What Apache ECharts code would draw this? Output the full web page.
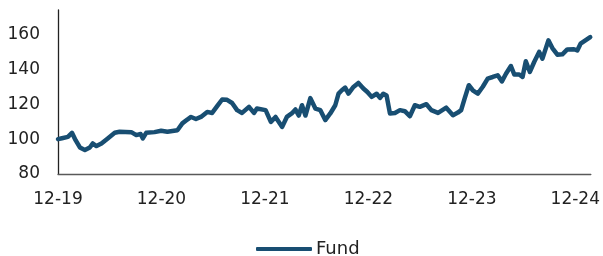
<!DOCTYPE html>
<html>
<head>
<meta charset="utf-8">
<script src="https://cdn.jsdelivr.net/npm/echarts@6/dist/echarts.min.js"></script>
<style>
  html, body { margin: 0; padding: 0; background: #fff; }
  #main { width: 603px; height: 256px; }
</style>
</head>
<body>
<div id="main"></div>
<script>
// months after Dec 2019
var months = [0, 0.46, 1.15, 1.62, 2.04, 2.54, 3.12, 3.69, 4.04, 4.46, 5.04, 5.77, 6.58, 7.15, 8.5, 9.08,
  9.58, 9.84, 10.23, 11.19, 11.96, 12.69, 13.85, 14.42, 15, 15.43, 16, 16.58, 17.31, 17.88, 18.46,
  19.04, 19.61, 20.19, 20.77, 21.35, 22.15, 22.73, 23.07, 24.08, 24.69, 25.23, 26, 26.54, 27.11,
  27.54, 27.92, 28.3, 28.7, 29.27, 29.85, 30.43, 31, 31.58, 32.16, 32.54, 32.92, 33.31, 33.69,
  34.27, 34.84, 35.42, 35.88, 36.38, 36.96, 37.35, 37.73, 38.11, 38.5, 39.08, 39.66, 40.23, 40.81,
  41.39, 41.96, 42.73, 43.3, 44.08, 45.03, 45.81, 46.38, 46.76, 47.16, 47.65, 48.11, 48.69, 49.27,
  49.84, 50.42, 51, 51.49, 51.96, 52.53, 52.93, 53.5, 53.88, 54.26, 54.73, 55.23, 55.81, 56.19,
  56.88, 57.34, 57.92, 58.5, 59.07, 59.85, 60.23, 60.61, 61.17, 61.73];
var fund = [100, 100.5, 101.3, 103.6, 99.4, 95.2, 93.7, 95.2, 97.5, 96, 97.5, 100.4, 103.6, 104.2, 104, 102.3,
  102.9, 100.4, 103.6, 104, 104.8, 104.2, 105.1, 109, 111.2, 112.7, 111.5, 112.7, 115.6, 115, 118.9,
  122.7, 122.5, 120.7, 116.6, 115, 118.5, 115, 117.5, 116.6, 109.9, 112.7, 107, 112.7, 114.7,
  117, 113.5, 119.4, 113.5, 123.5, 117.5, 116.6, 110.9, 114.7, 119.4, 126.1, 128, 129.5, 126.1,
  129.9, 132.2, 129, 127, 124.2, 126, 123.6, 126, 125, 114.7, 115, 116.6, 116, 113.1,
  119.4, 118.5, 120, 116.6, 115, 118, 113.7, 115.2, 116.6, 123.2, 130.9, 128, 126.1, 130,
  134.7, 135.6, 136.6, 133.1, 137.5, 141.9, 137, 137, 135.6, 144.6, 138.5, 144.2, 150, 146.1,
  156.6, 152.2, 148.4, 148.6, 151.4, 151.5, 150.8, 154.7, 156.6, 158.5];
var xTickLabels = ['12-19', '12-20', '12-21', '12-22', '12-23', '12-24'];

var points = months.map(function (m, i) { return [m, fund[i]]; });

var chart = echarts.init(document.getElementById('main'));
chart.setOption({
  animation: false,
  textStyle: { fontFamily: 'DejaVu Sans' },
  grid: { left: 58, right: 10, top: 10, bottom: 82 },
  legend: {
    top: 240,
    left: 256,
    padding: 0,
    icon: 'roundRect',
    itemWidth: 56,
    itemHeight: 4,
    itemGap: 6,
    textStyle: { fontSize: 18, color: '#222', padding: [0, 0, 0, -1] },
    data: ['Fund']
  },
  xAxis: {
    type: 'value',
    min: 0,
    max: 61.8,
    interval: 12,
    splitLine: { show: false },
    axisTick: { show: false },
    axisLine: { lineStyle: { color: '#595959', width: 1.3 } },
    axisLabel: {
      fontSize: 17,
      color: '#222',
      margin: 17,
      showMaxLabel: false,
      formatter: function (v) {
        return v % 12 === 0 ? xTickLabels[v / 12] : '';
      }
    }
  },
  yAxis: {
    type: 'value',
    min: 80,
    max: 174,
    interval: 20,
    splitLine: { show: false },
    axisTick: { show: false },
    axisLine: { show: true, lineStyle: { color: '#222', width: 1.3 } },
    axisLabel: {
      fontSize: 17,
      color: '#222',
      margin: 18,
      showMaxLabel: false,
      formatter: function (v) { return v % 20 === 0 ? v : ''; }
    }
  },
  series: [{
    name: 'Fund',
    type: 'line',
    data: points,
    showSymbol: false,
    color: '#184e72',
    lineStyle: { width: 4.5, color: '#184e72', cap: 'round', join: 'round' }
  }]
});
</script>
</body>
</html>
